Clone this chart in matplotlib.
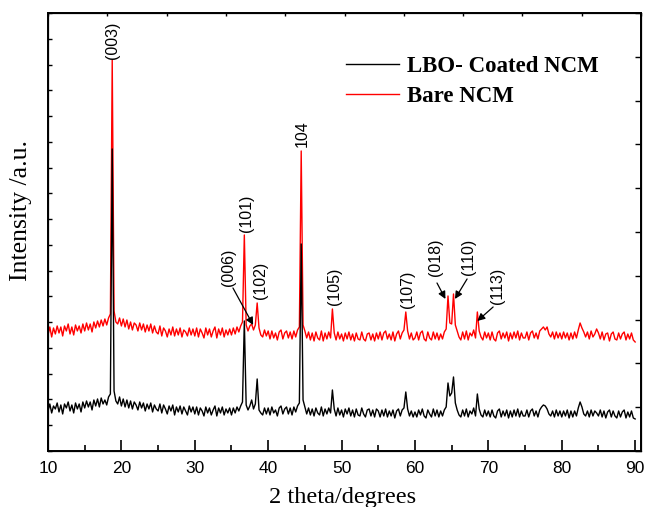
import numpy as np
import matplotlib
matplotlib.use("Agg")
import matplotlib.pyplot as plt

# 2theta grid, 0.25 deg step from 10 to 90
two_theta = np.arange(321) * 0.25 + 10

# LBO-coated NCM intensity (a.u.), 20 points per 5 deg block
coated = [
    40, 47, 38, 45, 42, 48, 39, 46, 37, 47, 43, 49, 40, 46, 38, 48, 42, 47, 39, 49,
    43, 50, 44, 49, 41, 51, 45, 52, 44, 53, 47, 51, 46, 54, 57, 302, 60, 50, 47, 54,
    45, 52, 44, 51, 43, 50, 42, 49, 46, 41, 49, 43, 48, 40, 47, 42, 48, 39, 46, 42,
    40, 47, 38, 46, 42, 37, 45, 40, 46, 36, 44, 39, 45, 37, 44, 40, 36, 45, 39, 44,
    37, 44, 36, 43, 40, 35, 44, 38, 43, 36, 41, 45, 35, 43, 38, 44, 36, 42, 38, 43,
    36, 43, 38, 44, 40, 45, 49, 130, 46, 41, 45, 51, 42, 47, 72, 41, 38, 36, 43, 37,
    43, 36, 44, 38, 41, 35, 43, 45, 37, 42, 44, 37, 43, 36, 44, 39, 45, 48, 207, 51,
    44, 37, 43, 36, 42, 35, 43, 38, 36, 44, 35, 42, 37, 43, 38, 61, 42, 35, 43, 36,
    41, 34, 42, 37, 43, 35, 41, 34, 42, 36, 35, 43, 37, 34, 41, 42, 35, 41, 34, 42,
    40, 34, 41, 35, 42, 34, 40, 35, 41, 33, 40, 42, 35, 41, 43, 59, 42, 35, 40, 34,
    39, 34, 41, 36, 42, 35, 33, 41, 37, 34, 42, 35, 41, 34, 40, 35, 41, 44, 68, 55,
    58, 74, 48, 41, 36, 34, 41, 35, 42, 34, 40, 37, 43, 35, 57, 42, 36, 34, 41, 35,
    40, 34, 41, 35, 33, 40, 42, 34, 40, 35, 41, 33, 40, 34, 41, 35, 42, 34, 40, 35,
    35, 41, 34, 40, 42, 35, 40, 34, 41, 44, 46, 45, 42, 37, 35, 40, 34, 41, 35, 40,
    34, 40, 35, 41, 33, 40, 34, 40, 35, 43, 49, 44, 37, 35, 40, 34, 41, 35, 40, 38,
    35, 41, 34, 40, 33, 39, 41, 34, 40, 35, 33, 40, 34, 39, 41, 33, 39, 34, 40, 33,
    32,
]

# bare NCM intensity (a.u.), offset above the coated pattern
bare = [
    116, 124, 114, 123, 117, 125, 118, 124, 115, 125, 120, 127, 117, 124, 116, 126, 120, 125, 118, 127,
    120, 128, 121, 127, 119, 129, 123, 130, 124, 131, 125, 132, 126, 133, 137, 391, 140, 129, 127, 133,
    125, 132, 124, 131, 122, 129, 121, 128, 126, 120, 128, 121, 127, 119, 126, 120, 127, 118, 125, 119,
    117, 125, 115, 123, 120, 114, 122, 116, 124, 115, 122, 116, 123, 114, 121, 119, 115, 123, 116, 122,
    115, 123, 114, 122, 118, 113, 123, 116, 122, 114, 120, 124, 113, 122, 116, 123, 114, 121, 116, 122,
    116, 123, 117, 124, 119, 125, 129, 216, 126, 120, 125, 127, 121, 126, 148, 123, 116, 114, 121, 115,
    120, 112, 120, 113, 118, 111, 119, 121, 112, 118, 120, 113, 119, 112, 120, 114, 121, 124, 300, 126,
    120, 113, 119, 111, 118, 110, 119, 113, 111, 120, 110, 118, 112, 119, 113, 142, 118, 111, 119, 112,
    117, 110, 118, 112, 119, 111, 117, 110, 118, 112, 111, 119, 112, 110, 117, 118, 111, 117, 110, 118,
    112, 119, 111, 118, 120, 112, 117, 111, 119, 110, 117, 120, 112, 118, 121, 139, 120, 112, 118, 111,
    113, 119, 111, 118, 120, 112, 110, 119, 113, 111, 119, 112, 118, 111, 117, 112, 119, 122, 155, 128,
    127, 157, 126, 120, 114, 111, 119, 112, 120, 111, 118, 115, 121, 113, 139, 120, 114, 111, 119, 113,
    118, 111, 119, 112, 110, 118, 120, 112, 118, 113, 119, 110, 118, 112, 119, 113, 120, 111, 118, 113,
    113, 119, 111, 118, 120, 113, 118, 112, 120, 122, 124, 121, 124, 117, 114, 119, 112, 119, 113, 118,
    112, 119, 113, 118, 111, 118, 112, 119, 113, 121, 128, 123, 119, 114, 119, 112, 120, 114, 117, 122,
    118, 112, 119, 111, 117, 118, 110, 117, 119, 112, 111, 118, 112, 117, 119, 111, 117, 112, 118, 111,
    109,
]

# reflection labels: text, x, y of label bottom
peak_labels = [
    ("(003)", 18.75, 392),
    ("(101)", 37.05, 219),
    ("(006)", 34.65, 165),
    ("(102)", 38.9, 152),
    ("104", 44.6, 304),
    ("(105)", 49.1, 146),
    ("(107)", 58.95, 143),
    ("(018)", 62.75, 175),
    ("(110)", 67.25, 176),
    ("(113)", 71.2, 147),
]
# arrows: (start, end)
peak_arrows = [
    ((35.2, 163), (37.95, 126)),
    ((63.0, 168), (64.15, 152)),
    ((67.1, 172), (65.45, 152)),
    ((70.65, 144), (68.5, 130)),
]

SANS = "Liberation Sans"
SERIF = "Liberation Serif"

fig = plt.figure(figsize=(6.46, 5.07), dpi=100)
ax = fig.add_axes([0.0743, 0.1105, 0.9180, 0.8639])

ax.plot(two_theta, bare, color="#ff0000", lw=1.0, label="Bare NCM")
ax.plot(two_theta, coated, color="black", lw=1.0, label="LBO- Coated NCM")

ax.set_xlim(10, 90.8)
ax.set_ylim(0, 438)

ax.set_xticks(np.arange(10, 91, 10))
ax.set_xticks(np.arange(15, 90, 10), minor=True)
ax.set_yticks(np.linspace(0, 438, 18))
ax.tick_params(axis="x", which="major", direction="in", length=8, width=1.2, pad=7)
ax.tick_params(axis="x", which="minor", direction="in", length=4, width=1.2)
ax.tick_params(axis="y", direction="in", length=3, width=1.0, labelleft=False)
for lbl in ax.get_xticklabels():
    lbl.set_fontfamily(SANS)
    lbl.set_fontsize(12.5)
for sp in ax.spines.values():
    sp.set_linewidth(1.4)

# extra tick marks along the top and right frame
axr = ax.twinx()
axr.set_ylim(0, 10)
axr.set_yticks(range(11))
axr.tick_params(direction="in", length=4, width=1.0, labelright=False)
axt = ax.twiny()
axt.set_xlim(0, 10)
axt.set_xticks(range(11))
axt.tick_params(direction="in", length=2, width=1.0, labeltop=False)

ax.set_xlabel("2 theta/degrees", fontfamily=SERIF, fontsize=17.5, va="top")
ax.xaxis.set_label_coords(0.496, -0.083)
ax.set_ylabel("Intensity /a.u.", fontfamily=SERIF, fontsize=18.5)
ax.yaxis.set_label_coords(-0.027, 0.548)

for txt, x, y in peak_labels:
    ax.text(x, y, txt, rotation=90, ha="center", va="bottom",
            fontfamily=SANS, fontsize=11.5)
for (x0, y0), (x1, y1) in peak_arrows:
    ax.annotate("", xy=(x1, y1), xytext=(x0, y0),
                arrowprops=dict(arrowstyle="-|>", color="black", lw=0.9,
                                mutation_scale=11, shrinkA=0, shrinkB=0))

handles, labels = ax.get_legend_handles_labels()
leg = ax.legend(handles[::-1], labels[::-1], loc="upper left",
                bbox_to_anchor=(0.5025, 0.901), frameon=False,
                borderpad=0, borderaxespad=0, handlelength=2.3,
                handletextpad=0.35, labelspacing=0.375,
                prop={"family": SERIF, "weight": "bold", "size": 16.5})

fig.savefig("out.png", dpi=100)
